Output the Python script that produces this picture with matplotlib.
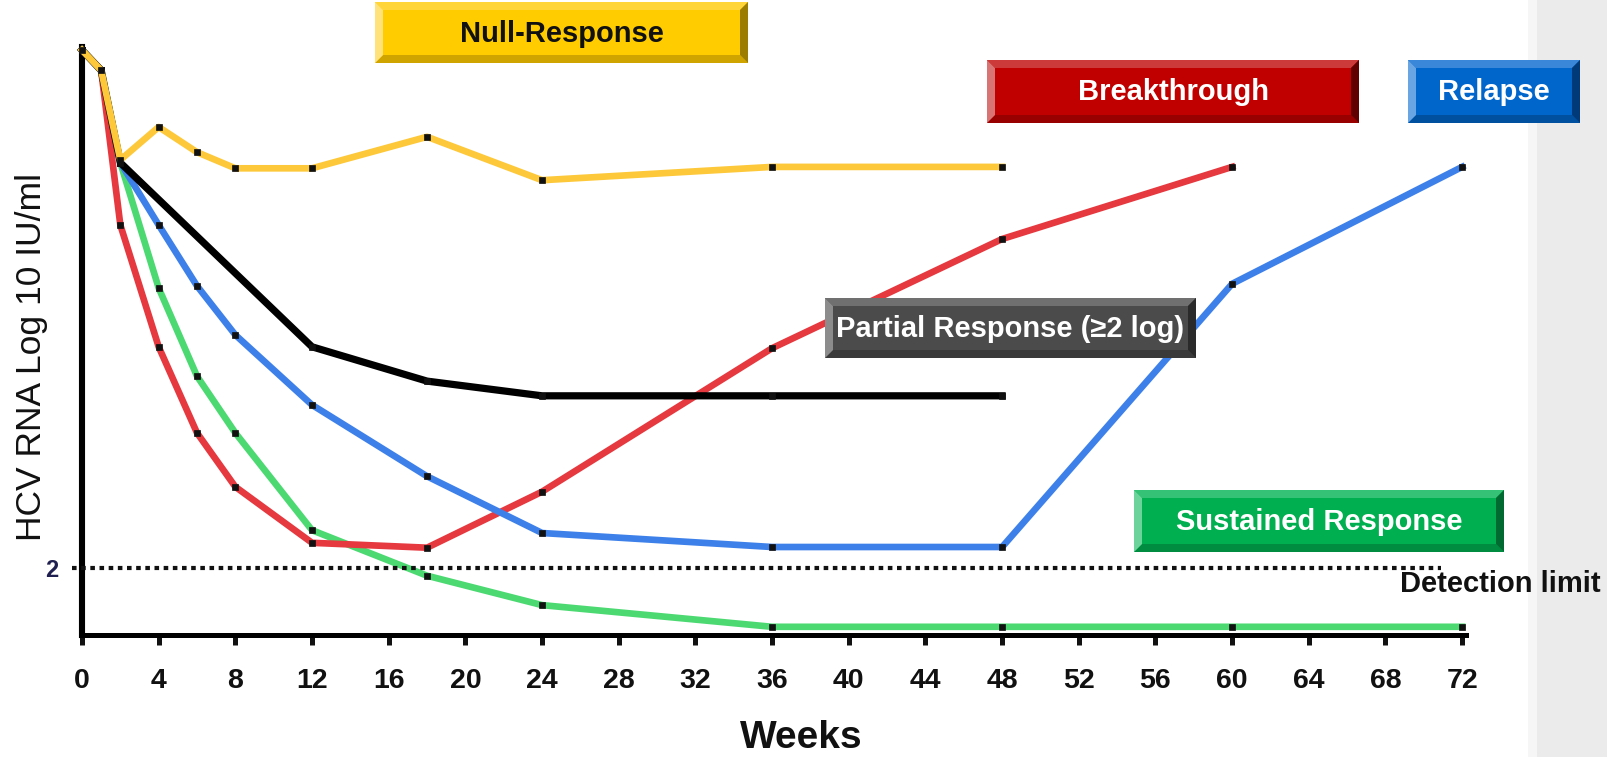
import matplotlib
matplotlib.use("Agg")
import matplotlib.pyplot as plt
from matplotlib.patches import Polygon, Rectangle

plt.rcParams['font.family'] = ['Liberation Sans', 'DejaVu Sans']

# ---- data (HCV RNA, log10 IU/ml) ----
weeks_null = [0, 1, 2, 4, 6, 8, 12, 18, 24, 36, 48]
null_resp = [9.40, 9.11, 7.83, 8.30, 7.94, 7.71, 7.71, 8.16, 7.54, 7.73, 7.73]

weeks_partial = [0, 1, 2, 12, 18, 24, 36, 48]
partial_resp = [9.40, 9.11, 7.79, 5.16, 4.67, 4.46, 4.46, 4.46]

weeks_relapse = [0, 1, 2, 4, 6, 8, 12, 18, 24, 36, 48, 60, 72]
relapse = [9.40, 9.11, 7.79, 6.90, 6.03, 5.33, 4.33, 3.31, 2.50, 2.30, 2.30, 6.06, 7.73]

weeks_break = [0, 1, 2, 4, 6, 8, 12, 18, 24, 36, 48, 60]
breakthrough = [9.40, 9.11, 6.90, 5.16, 3.93, 3.16, 2.36, 2.29, 3.09, 5.14, 6.70, 7.73]

weeks_sustained = [0, 1, 2, 4, 6, 8, 12, 18, 24, 36, 48, 60, 72]
sustained = [9.40, 9.11, 7.79, 6.00, 4.74, 3.93, 2.54, 1.89, 1.47, 1.16, 1.16, 1.16, 1.16]

detection_limit = 2
x_ticks = list(range(0, 73, 4))

W, H = 1607, 757
fig = plt.figure(figsize=(W / 100, H / 100), dpi=100)
fig.patch.set_facecolor('white')

# background (grey side panel)
bg = fig.add_axes([0, 0, 1, 1], zorder=0)
bg.set_xlim(0, W); bg.set_ylim(H, 0); bg.axis('off')
bg.add_patch(Rectangle((1537, 0), W - 1537, H, color='#ebebeb', lw=0))
bg.add_patch(Rectangle((1528, 0), 9, H, color='#f6f6f6', lw=0))

# main axes
x0px, x1px, ytop, ybot = 82, 1466, 47, 635
ax = fig.add_axes([x0px / W, (H - ybot) / H, (x1px - x0px) / W, (ybot - ytop) / H], zorder=1)
ax.set_facecolor('none')
ax.set_xlim(0, 72.2)
ax.set_ylim(1.043, 9.443)

lw = 4.8
mk = dict(marker='s', ms=4, mfc='#111111', mec='#111111', mew=0.5)
ax.plot(weeks_sustained, sustained, color='#4cd972', lw=lw, clip_on=False, zorder=3, **mk)
ax.plot(weeks_break, breakthrough, color='#e5383f', lw=lw, clip_on=False, zorder=4, **mk)
ax.plot(weeks_relapse, relapse, color='#3d80ea', lw=lw, clip_on=False, zorder=5, **mk)
ax.plot(weeks_partial, partial_resp, color='#000000', lw=5.2, clip_on=False, zorder=6, **mk)
ax.plot(weeks_null, null_resp, color='#fdc83a', lw=lw, clip_on=False, zorder=7, **mk)

# detection limit dotted line
ax.plot([-0.5, 70.9], [detection_limit, detection_limit], color='#111111', lw=3,
        linestyle=(0, (1.1, 1.1)), clip_on=False, zorder=8)

for s in ['top', 'right']:
    ax.spines[s].set_visible(False)
ax.spines['left'].set_linewidth(4.4)
ax.spines['bottom'].set_linewidth(3.6)
ax.spines['left'].set_zorder(2)
ax.spines['bottom'].set_zorder(2)

ax.set_xticks(x_ticks)
ax.set_xticklabels([str(t) for t in x_ticks], fontsize=20.5, fontweight='bold')
ax.tick_params(axis='x', direction='out', length=7, width=3.6, pad=17, colors='#111111')
ax.set_yticks([detection_limit])
ax.set_yticklabels([str(detection_limit)], fontsize=17, fontweight='bold', color='#1f1f50')
ax.tick_params(axis='y', length=0, pad=17)

# overlay in pixel coordinates
ov = fig.add_axes([0, 0, 1, 1], zorder=3)
ov.set_xlim(0, W); ov.set_ylim(H, 0); ov.axis('off')
ov.patch.set_alpha(0)

ov.text(32, 357, 'HCV RNA Log 10 IU/ml', rotation=90, ha='center', va='center',
        fontsize=25.5, color='#111111')
ov.text(801, 738, 'Weeks', ha='center', va='center', fontsize=28, fontweight='bold',
        color='#111111')
ov.text(1400, 584, 'Detection limit', ha='left', va='center', fontsize=21,
        fontweight='bold', color='#111111')


def bevel(x0, y0, x1, y1, main, top, left, bottom, right, text, tcolor, b=8):
    ov.add_patch(Rectangle((x0, y0), x1 - x0, y1 - y0, color=main, lw=0))
    ov.add_patch(Polygon([(x0, y0), (x1, y0), (x1 - b, y0 + b), (x0 + b, y0 + b)], color=top, lw=0))
    ov.add_patch(Polygon([(x0, y1), (x1, y1), (x1 - b, y1 - b), (x0 + b, y1 - b)], color=bottom, lw=0))
    ov.add_patch(Polygon([(x0, y0), (x0 + b, y0 + b), (x0 + b, y1 - b), (x0, y1)], color=left, lw=0))
    ov.add_patch(Polygon([(x1, y0), (x1 - b, y0 + b), (x1 - b, y1 - b), (x1, y1)], color=right, lw=0))
    ov.text((x0 + x1) / 2, (y0 + y1) / 2 + 1, text, ha='center', va='center', fontsize=21,
            fontweight='bold', color=tcolor,
            family=['Liberation Sans', 'DejaVu Sans'])


bevel(375, 2, 748, 63, '#ffcc00', '#ffd53a', '#ffe27a', '#cfa400', '#9c7d00', 'Null-Response', '#111111')
bevel(987, 60, 1359, 123, '#c00000', '#cc3a3a', '#d87474', '#980000', '#600000', 'Breakthrough', 'white')
bevel(1408, 60, 1580, 123, '#0066cc', '#3a86d8', '#6aa5e3', '#0050a0', '#003a78', 'Relapse', 'white')
bevel(825, 298, 1196, 358, '#4b4b4b', '#707070', '#8c8c8c', '#3a3a3a', '#2a2a2a', 'Partial Response (≥2 log)', 'white')
bevel(1134, 490, 1504, 552, '#00b050', '#35c276', '#6cd39a', '#008c40', '#006a30', 'Sustained Response', 'white')

fig.savefig('out.png', dpi=100)
